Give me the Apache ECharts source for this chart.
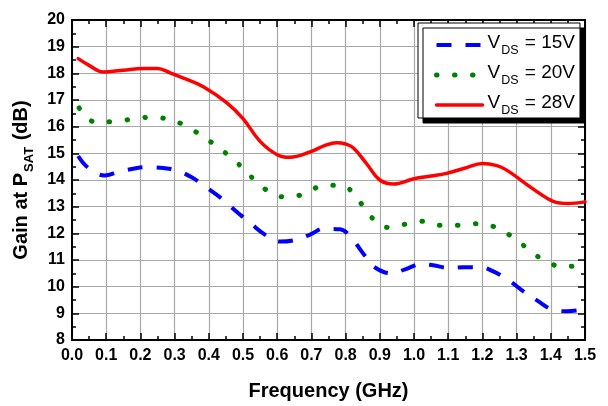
<!DOCTYPE html>
<html>
<head>
<meta charset="utf-8">
<script src="https://cdn.jsdelivr.net/npm/echarts@6/dist/echarts.min.js"></script>
<style>
  html, body { margin: 0; padding: 0; background: #fff; }
  #chart { width: 608px; height: 406px; }
</style>
</head>
<body>
<div id="chart"></div>
<script>
// Gain at saturated output power versus frequency, three drain voltages
const freq15 = [0.018, 0.048, 0.096, 0.135, 0.179, 0.218, 0.267, 0.306, 0.35, 0.389, 0.437, 0.477, 0.523, 0.564, 0.608, 0.652, 0.696, 0.735, 0.784, 0.818, 0.857, 0.886, 0.935, 0.974, 1.022, 1.056, 1.105, 1.144, 1.193, 1.227, 1.276, 1.315, 1.364, 1.403, 1.447, 1.49];
const gain15 = [14.9, 14.45, 14.17, 14.3, 14.42, 14.48, 14.45, 14.36, 14.1, 13.76, 13.31, 12.86, 12.37, 11.95, 11.69, 11.75, 11.95, 12.17, 12.15, 11.8, 11.15, 10.72, 10.5, 10.65, 10.85, 10.8, 10.7, 10.73, 10.73, 10.6, 10.25, 9.87, 9.45, 9.15, 9.08, 9.13];

const freq20 = [0.021, 0.067, 0.121, 0.173, 0.223, 0.275, 0.325, 0.377, 0.428, 0.48, 0.53, 0.582, 0.633, 0.685, 0.737, 0.788, 0.837, 0.874, 0.925, 0.977, 1.027, 1.079, 1.131, 1.181, 1.234, 1.286, 1.337, 1.388, 1.44, 1.493];
const gain20 = [16.7, 16.18, 16.18, 16.28, 16.35, 16.3, 16.08, 15.68, 15.22, 14.68, 14.05, 13.52, 13.35, 13.52, 13.8, 13.8, 13.25, 12.62, 12.22, 12.35, 12.45, 12.3, 12.3, 12.36, 12.25, 11.88, 11.38, 10.93, 10.75, 10.82];

const freq28 = [0.018, 0.05, 0.092, 0.15, 0.208, 0.25, 0.287, 0.33, 0.384, 0.452, 0.5, 0.55, 0.6, 0.637, 0.696, 0.74, 0.774, 0.8, 0.823, 0.862, 0.9, 0.94, 1.0, 1.05, 1.095, 1.15, 1.2, 1.24, 1.27, 1.35, 1.407, 1.45, 1.5];
const gain28 = [18.55, 18.3, 18.05, 18.12, 18.18, 18.18, 18.02, 17.8, 17.5, 16.9, 16.3, 15.45, 14.95, 14.85, 15.05, 15.3, 15.4, 15.35, 15.2, 14.6, 14.0, 13.85, 14.05, 14.15, 14.25, 14.45, 14.62, 14.55, 14.38, 13.65, 13.2, 13.12, 13.18];

const seriesNames = ['15V', '20V', '28V'];

const FONT = 'Liberation Sans, Arial, sans-serif';

// line styles shared by each curve and its legend entry
const styles = [
  { color: '#0000ff', width: 4, type: [15, 14], cap: 'butt' },
  { color: '#008000', width: 5, type: [0.5, 17.5], cap: 'round' },
  { color: '#ff0000', width: 3.5, type: 'solid', cap: 'round' }
];

function pairs(xs, ys) { return xs.map((x, i) => [x, ys[i]]); }

const tickLabel = { fontFamily: FONT, fontSize: 16, fontWeight: 'bold', color: '#000' };

const chart = echarts.init(document.getElementById('chart'), null, { renderer: 'canvas' });

const frameAxis = {
  axisLine: { show: true, onZero: false, lineStyle: { color: '#000', width: 2 } },
  axisTick: { show: true, inside: true, length: 7, lineStyle: { color: '#000', width: 1.5 } },
  minorTick: { show: true, splitNumber: 2, length: 4, lineStyle: { color: '#000', width: 1.5 } },
  axisLabel: { show: false },
  splitLine: { show: false }
};

chart.setOption({
  animation: false,
  backgroundColor: '#fff',
  grid: { left: 72, right: 23, top: 20, bottom: 54, containLabel: false },
  legend: {
    orient: 'vertical',
    left: 418,
    top: 23,
    padding: [10, 5, 1, 16],
    itemGap: 6,
    itemWidth: 46,
    itemHeight: 14,
    backgroundColor: '#fff',
    borderColor: '#000',
    borderWidth: 1,
    shadowColor: '#000',
    shadowBlur: 0,
    shadowOffsetX: 5,
    shadowOffsetY: 5,
    itemStyle: { opacity: 0 },
    data: seriesNames.map((n, i) => ({ name: n, lineStyle: Object.assign({}, styles[i]) })),
    formatter: name => '{v|V}{s|DS}{v| = ' + name + '}',
    textStyle: {
      fontFamily: FONT,
      color: '#000',
      rich: {
        v: { fontFamily: FONT, fontSize: 19, color: '#000', verticalAlign: 'top', lineHeight: 19 },
        s: { fontFamily: FONT, fontSize: 12.5, color: '#000', verticalAlign: 'top', padding: [11, 1, 0, 1] }
      }
    }
  },
  xAxis: [
    {
      type: 'value', min: 0, max: 1.5, interval: 0.1, position: 'bottom',
      name: 'Frequency (GHz)', nameLocation: 'middle', nameGap: 41,
      nameTextStyle: { fontFamily: FONT, fontSize: 20, fontWeight: 'bold', color: '#000' },
      axisLine: { show: true, onZero: false, lineStyle: { color: '#000', width: 2 } },
      axisTick: { show: true, inside: true, length: 7, lineStyle: { color: '#000', width: 1.5 } },
      minorTick: { show: true, splitNumber: 2, length: 4, lineStyle: { color: '#000', width: 1.5 } },
      axisLabel: Object.assign({ margin: 8, formatter: v => v.toFixed(1) }, tickLabel),
      splitLine: { show: true, lineStyle: { color: '#a8a8a8', width: 1.2 } }
    },
    Object.assign({ type: 'value', min: 0, max: 1.5, interval: 0.1, position: 'top' }, frameAxis)
  ],
  yAxis: [
    {
      type: 'value', min: 8, max: 20, interval: 1, position: 'left',
      name: '{t|Gain at P}{s|SAT}{t| (dB)}', nameLocation: 'middle', nameGap: 30, nameRotate: 90,
      nameTextStyle: {
        rich: {
          t: { fontFamily: FONT, fontSize: 20, fontWeight: 'bold', color: '#000', verticalAlign: 'top', lineHeight: 20 },
          s: { fontFamily: FONT, fontSize: 13, fontWeight: 'bold', color: '#000', verticalAlign: 'top', padding: [12, 1, 0, 1] }
        }
      },
      axisLine: { show: true, onZero: false, lineStyle: { color: '#000', width: 2 } },
      axisTick: { show: true, inside: true, length: 7, lineStyle: { color: '#000', width: 1.5 } },
      minorTick: { show: true, splitNumber: 2, length: 4, lineStyle: { color: '#000', width: 1.5 } },
      axisLabel: Object.assign({ margin: 7 }, tickLabel),
      splitLine: { show: true, lineStyle: { color: '#a8a8a8', width: 1.2 } }
    },
    Object.assign({ type: 'value', min: 8, max: 20, interval: 1, position: 'right' }, frameAxis)
  ],
  series: [freq15, freq20, freq28].map((xs, i) => ({
    name: seriesNames[i],
    type: 'line',
    smooth: 0.4,
    symbol: 'none',
    data: pairs(xs, [gain15, gain20, gain28][i]),
    lineStyle: Object.assign({}, styles[i]),
    itemStyle: { color: styles[i].color }
  }))
});
</script>
</body>
</html>
